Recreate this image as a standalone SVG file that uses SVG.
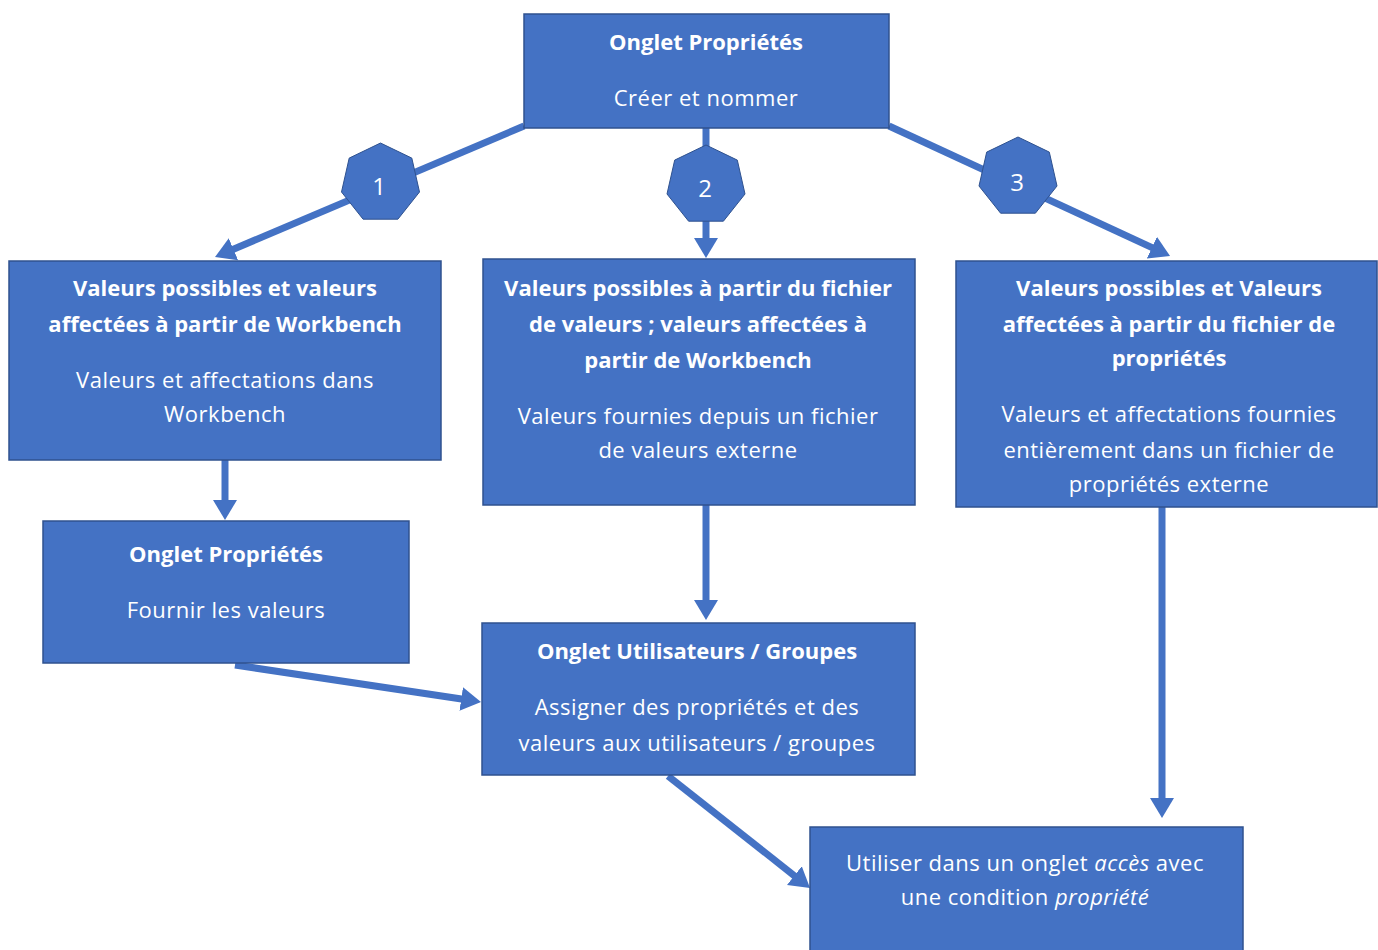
<svg xmlns="http://www.w3.org/2000/svg" width="1378" height="950" viewBox="0 0 1378 950">
<style>
.box{fill:#4472C4;stroke:#2F528F;stroke-width:1.5}
.hept{fill:#4472C4;stroke:#2F528F;stroke-width:1}
.t{font-family:"Open Sans","Noto Sans","DejaVu Sans",sans-serif;font-size:22px;letter-spacing:0.5px;fill:#FFFFFF;text-anchor:middle}
.b{font-weight:bold;letter-spacing:0}
.n{font-family:"Open Sans","Noto Sans","DejaVu Sans",sans-serif;font-size:24px;fill:#FFFFFF;text-anchor:middle}
.c{fill:none;stroke:#4472C4;stroke-width:7}
</style>
<defs>
<marker id="ah" markerUnits="userSpaceOnUse" markerWidth="22" markerHeight="26" refX="2" refY="13" orient="auto" viewBox="0 0 22 26">
<path d="M0,1 L20,13 L0,25 z" fill="#4472C4"/>
</marker>
</defs>
<rect width="1378" height="950" fill="#FFFFFF"/>
<g id="connectors">
<line class="c" x1="524" y1="126" x2="231.6" y2="250" marker-end="url(#ah)"/>
<line class="c" x1="706" y1="128" x2="706" y2="240" marker-end="url(#ah)"/>
<line class="c" x1="889" y1="126" x2="1153.7" y2="248.4" marker-end="url(#ah)"/>
<line class="c" x1="225" y1="460" x2="225" y2="502" marker-end="url(#ah)"/>
<line class="c" x1="706" y1="505" x2="706" y2="602" marker-end="url(#ah)"/>
<line class="c" x1="235" y1="665" x2="463.2" y2="699.3" marker-end="url(#ah)"/>
<line class="c" x1="668" y1="776" x2="795.9" y2="876.9" marker-end="url(#ah)"/>
<line class="c" x1="1162" y1="507" x2="1162" y2="800" marker-end="url(#ah)"/>
</g>
<g id="top">
<rect class="box" x="524" y="14" width="365" height="114"/>
<text class="t b" x="706" y="50">Onglet Propriétés</text>
<text class="t" x="706" y="106">Créer et nommer</text>
</g>
<g id="step1">
<polygon class="hept" points="380.5,143 411.8,158.1 419.5,192 397.9,219.2 363.1,219.2 341.5,192 349.2,158.1"/>
<text class="n" x="379" y="195">1</text>
</g>
<g id="step2">
<polygon class="hept" points="706,145 737.3,160.1 745,194 723.4,221.2 688.6,221.2 667,194 674.7,160.1"/>
<text class="n" x="705" y="197">2</text>
</g>
<g id="step3">
<polygon class="hept" points="1018,137 1049.3,152.1 1057,186 1035.4,213.2 1000.6,213.2 979,186 986.7,152.1"/>
<text class="n" x="1017" y="191">3</text>
</g>
<g id="left1">
<rect class="box" x="9" y="261" width="432" height="199"/>
<text class="t b" x="225" y="296">Valeurs possibles et valeurs</text>
<text class="t b" x="225" y="332">affectées à partir de Workbench</text>
<text class="t" x="225" y="388">Valeurs et affectations dans</text>
<text class="t" x="225" y="422">Workbench</text>
</g>
<g id="mid1">
<rect class="box" x="483" y="259" width="432" height="246"/>
<text class="t b" x="698" y="296">Valeurs possibles à partir du fichier</text>
<text class="t b" x="698" y="332">de valeurs ; valeurs affectées à</text>
<text class="t b" x="698" y="368">partir de Workbench</text>
<text class="t" x="698" y="424">Valeurs fournies depuis un fichier</text>
<text class="t" x="698" y="458">de valeurs externe</text>
</g>
<g id="right1">
<rect class="box" x="956" y="261" width="421" height="246"/>
<text class="t b" x="1169" y="296">Valeurs possibles et Valeurs</text>
<text class="t b" x="1169" y="332">affectées à partir du fichier de</text>
<text class="t b" x="1169" y="366">propriétés</text>
<text class="t" x="1169" y="422">Valeurs et affectations fournies</text>
<text class="t" x="1169" y="458">entièrement dans un fichier de</text>
<text class="t" x="1169" y="492">propriétés externe</text>
</g>
<g id="left2">
<rect class="box" x="43" y="521" width="366" height="142"/>
<text class="t b" x="226" y="562">Onglet Propriétés</text>
<text class="t" x="226" y="618">Fournir les valeurs</text>
</g>
<g id="mid2">
<rect class="box" x="482" y="623" width="433" height="152"/>
<text class="t b" x="697" y="659">Onglet Utilisateurs / Groupes</text>
<text class="t" x="697" y="715">Assigner des propriétés et des</text>
<text class="t" x="697" y="751">valeurs aux utilisateurs / groupes</text>
</g>
<g id="bottom">
<rect class="box" x="810" y="827" width="433" height="130"/>
<text class="t" x="1025" y="871">Utiliser dans un onglet <tspan font-style="italic">accès</tspan> avec</text>
<text class="t" x="1025" y="905">une condition <tspan font-style="italic">propriété</tspan></text>
</g>
</svg>
